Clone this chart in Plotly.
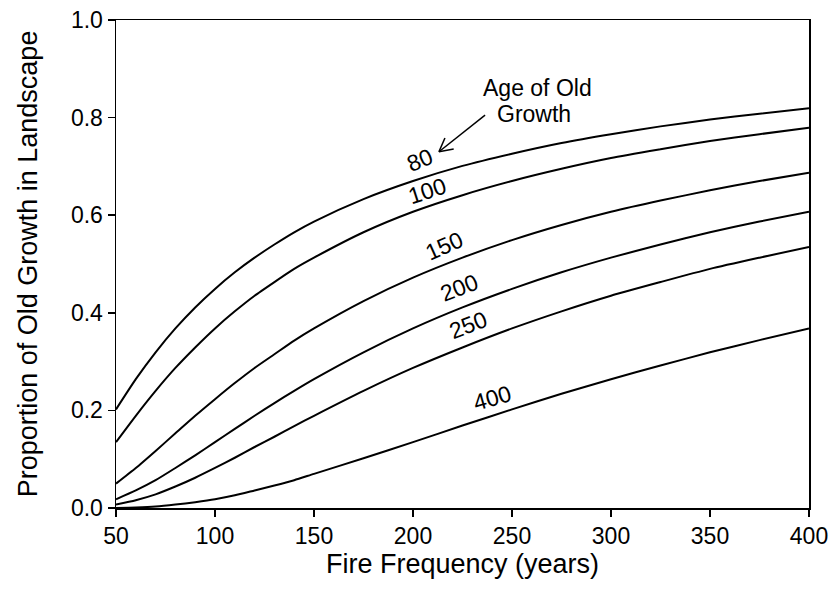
import math
import plotly.graph_objects as go

years = [50, 60, 70, 80, 90, 100, 110, 120, 130, 140, 150, 175, 200, 225, 250, 275, 300, 325, 350, 375, 400]
age_labels = ["80", "100", "150", "200", "250", "400"]
prop_80 = [0.202, 0.264, 0.319, 0.368, 0.411, 0.449, 0.483, 0.513, 0.540, 0.565, 0.587, 0.633, 0.670, 0.701, 0.726, 0.748, 0.766, 0.782, 0.796, 0.808, 0.819]
prop_100 = [0.135, 0.189, 0.240, 0.287, 0.329, 0.368, 0.403, 0.435, 0.463, 0.490, 0.513, 0.565, 0.607, 0.641, 0.670, 0.695, 0.717, 0.735, 0.752, 0.766, 0.779]
prop_150 = [0.050, 0.082, 0.117, 0.153, 0.189, 0.223, 0.256, 0.287, 0.315, 0.343, 0.368, 0.424, 0.472, 0.513, 0.549, 0.580, 0.607, 0.630, 0.651, 0.670, 0.687]
prop_200 = [0.018, 0.036, 0.057, 0.082, 0.108, 0.135, 0.162, 0.189, 0.215, 0.240, 0.264, 0.319, 0.368, 0.411, 0.449, 0.483, 0.513, 0.540, 0.565, 0.587, 0.607]
prop_250 = [0.007, 0.016, 0.028, 0.044, 0.062, 0.082, 0.103, 0.125, 0.146, 0.168, 0.189, 0.240, 0.287, 0.329, 0.368, 0.403, 0.435, 0.463, 0.490, 0.513, 0.535]
prop_400 = [0.000, 0.001, 0.003, 0.007, 0.012, 0.018, 0.026, 0.036, 0.046, 0.057, 0.070, 0.102, 0.135, 0.169, 0.202, 0.234, 0.264, 0.292, 0.319, 0.344, 0.368]
series = [prop_80, prop_100, prop_150, prop_200, prop_250, prop_400]

# label placement (data coords) and rotation
label_x = [203.5, 207, 215.7, 223, 228, 240]
label_y = [0.713, 0.650, 0.537, 0.451, 0.375, 0.225]
label_rot = [-22, -18, -24, -21, -21, -16]

x_ticks = [50, 100, 150, 200, 250, 300, 350, 400]
y_ticks = [0.0, 0.2, 0.4, 0.6, 0.8, 1.0]

FONT = "Liberation Sans, Arial, sans-serif"
W, H = 831, 595
ML, MR, MT, MB = 116, 22, 20, 87
pw, ph = W - ML - MR, H - MT - MB

fig = go.Figure()
for name, vals in zip(age_labels, series):
    fig.add_trace(go.Scatter(x=years, y=vals, mode="lines", name=name,
                             line=dict(color="black", width=2, shape="spline", smoothing=0.6),
                             showlegend=False, hoverinfo="skip"))

annotations = []
for t, lx, ly, r in zip(age_labels, label_x, label_y, label_rot):
    annotations.append(dict(x=lx, y=ly, xref="x", yref="y", text=t, showarrow=False,
                            textangle=r, font=dict(family=FONT, size=23, color="black")))
annotations.append(dict(x=263.1, y=0.860, xref="x", yref="y", text="Age of Old",
                        showarrow=False, font=dict(family=FONT, size=23, color="black")))
annotations.append(dict(x=261.1, y=0.807, xref="x", yref="y", text="Growth",
                        showarrow=False, font=dict(family=FONT, size=23, color="black")))

# open arrow (V head) pointing to the "80" curve
sx = pw / 350.0
sy = ph / 1.0
head = (213.1, 0.730)
tail = (236.4, 0.805)
dxp = (tail[0] - head[0]) * sx
dyp = (tail[1] - head[1]) * sy
L = math.hypot(dxp, dyp)
ux, uy = dxp / L, dyp / L
shapes = [dict(type="line", xref="x", yref="y", x0=tail[0], y0=tail[1], x1=head[0], y1=head[1],
               line=dict(color="black", width=1.5))]
for ang in (28, -28):
    a = math.radians(ang)
    bx = ux * math.cos(a) - uy * math.sin(a)
    by = ux * math.sin(a) + uy * math.cos(a)
    shapes.append(dict(type="line", xref="x", yref="y", x0=head[0], y0=head[1],
                       x1=head[0] + bx * 15 / sx, y1=head[1] + by * 15 / sy,
                       line=dict(color="black", width=1.5)))

fig.update_layout(
    width=W, height=H,
    margin=dict(l=ML, r=MR, t=MT, b=MB, autoexpand=False),
    paper_bgcolor="white", plot_bgcolor="white",
    font=dict(family=FONT, color="black"),
    annotations=annotations, shapes=shapes,
    hovermode=False,
    xaxis=dict(range=[50, 400], tickvals=x_ticks, ticks="outside", ticklen=7, tickwidth=1.5,
               tickcolor="black", showline=True, linecolor="black", linewidth=1.5, mirror=True,
               showgrid=False, zeroline=False, tickfont=dict(size=23), automargin=False,
               ticklabeloverflow="allow",
               title=dict(text="Fire Frequency (years)", font=dict(size=27), standoff=6)),
    yaxis=dict(range=[0, 1.0], tickvals=y_ticks, tickformat=".1f", ticks="outside", ticklen=7,
               tickwidth=1.5, tickcolor="black", showline=True, linecolor="black", linewidth=1.5,
               mirror=True, showgrid=False, zeroline=False, tickfont=dict(size=23), automargin=False,
               ticklabeloverflow="allow",
               title=dict(text="Proportion of Old Growth in Landscape", font=dict(size=27), standoff=25)),
)

fig.write_html("out.html", config={"displayModeBar": False, "staticPlot": True},
               post_script="document.body.style.margin='0';document.body.style.overflow='hidden';")
